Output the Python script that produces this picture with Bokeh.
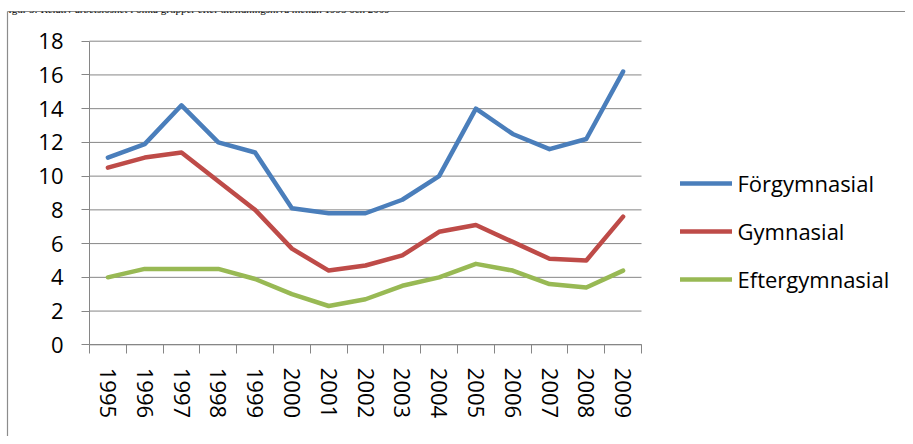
from bokeh.plotting import figure
from bokeh.models import Range1d, FixedTicker, Legend, LegendItem, Label, LinearAxis
from bokeh.embed import file_html
from bokeh.resources import INLINE

# ---- data -------------------------------------------------------------
title_text = "Figur 5: Relativ arbetslöshet i olika grupper efter utbildningsnivå mellan 1995 och 2009"
years = ["1995", "1996", "1997", "1998", "1999", "2000", "2001", "2002",
         "2003", "2004", "2005", "2006", "2007", "2008", "2009"]
forgymnasial = [11.1, 11.9, 14.2, 12.0, 11.4, 8.1, 7.8, 7.8, 8.6, 10.0, 14.0, 12.5, 11.6, 12.2, 16.2]
gymnasial = [10.5, 11.1, 11.4, 9.7, 8.0, 5.7, 4.4, 4.7, 5.3, 6.7, 7.1, 6.1, 5.1, 5.0, 7.6]
eftergymnasial = [4.0, 4.5, 4.5, 4.5, 3.9, 3.0, 2.3, 2.7, 3.5, 4.0, 4.8, 4.4, 3.6, 3.4, 4.4]
series_names = ["Förgymnasial", "Gymnasial", "Eftergymnasial"]
y_ticks = [0, 2, 4, 6, 8, 10, 12, 14, 16, 18]
y_max = 18

# ---- layout / styling ---------------------------------------------------
colors = ["#4A7EBB", "#BE4B48", "#98B954"]
grid_color = "#868686"
border_color = "#8c8c8c"
font = "Open Sans"
fs = "22px"

W, H = 905, 436
frame_left, frame_top = 7, 11   # outer chart box edges
plot_left, plot_right = 89, 641 # pixel positions of the category axis ends
plot_top, plot_bottom = 40.7, 344.3

n = len(years)
x_pos = [i + 0.5 for i in range(n)]          # category centres
boundaries = list(range(n + 1))               # category boundaries (tick marks)

px_x = (plot_right - plot_left) / n
px_y = (plot_bottom - plot_top) / y_max
x_range = Range1d(-(plot_left - frame_left) / px_x, n + (W - plot_right) / px_x)
y_range = Range1d(-(H - plot_bottom) / px_y, y_max + (plot_top - frame_top) / px_y)

p = figure(width=W, height=H, output_backend="svg", toolbar_location=None,
           x_range=x_range, y_range=y_range,
           x_axis_location=None, y_axis_location=None,
           min_border_left=frame_left, min_border_right=0,
           min_border_top=frame_top, min_border_bottom=0)
p.outline_line_color = None
p.background_fill_color = "white"
p.border_fill_color = "white"
p.grid.visible = False

# horizontal gridlines
p.segment(x0=[0] * len(y_ticks), x1=[n] * len(y_ticks), y0=y_ticks, y1=y_ticks,
          line_color=grid_color, line_width=1)

renderers = []
for vals, c in zip([forgymnasial, gymnasial, eftergymnasial], colors):
    r = p.line(x_pos, vals, line_color=c, line_width=4.5, line_cap="round", line_join="round")
    renderers.append(r)

# category axis: labels at centres, tick marks at boundaries
xa = LinearAxis(fixed_location=0, bounds=(0, n))
xa.ticker = FixedTicker(ticks=x_pos, minor_ticks=boundaries)
xa.major_label_overrides = {x: y for x, y in zip(x_pos, years)}
xa.major_label_orientation = "vertical"
xa.major_tick_out = 0
xa.major_tick_in = 0
xa.minor_tick_out = 9
xa.minor_tick_in = 0
xa.minor_tick_line_color = grid_color
xa.axis_line_color = grid_color
xa.major_label_standoff = 14
xa.major_label_text_font = font
xa.major_label_text_font_size = fs
xa.major_label_text_color = "black"
p.add_layout(xa, "below")

ya = LinearAxis(fixed_location=0, bounds=(0, y_max))
ya.ticker = FixedTicker(ticks=y_ticks)
ya.major_tick_out = 8
ya.major_tick_in = 0
ya.minor_tick_line_color = None
ya.major_tick_line_color = grid_color
ya.axis_line_color = grid_color
ya.major_label_standoff = 18
ya.major_label_text_font = font
ya.major_label_text_font_size = fs
ya.major_label_text_color = "black"
p.add_layout(ya, "left")

# outer chart box (left and top edges) drawn as bare axis lines
for loc in ("left", "above"):
    b = LinearAxis(ticker=FixedTicker(ticks=[]), major_tick_out=0, major_tick_in=0,
                   minor_tick_out=0, minor_tick_in=0, major_label_text_font_size="0px",
                   axis_line_color=border_color, axis_line_width=1.2)
    p.add_layout(b, loc)

# document caption above the chart box
cap = Label(x=2, y=8.5, x_units="canvas", y_units="canvas", text=title_text,
            text_font="Liberation Serif", text_font_size="11px",
            text_baseline="alphabetic", text_color="black")
p.add_layout(cap)

legend = Legend(items=[LegendItem(label=nm, renderers=[r]) for nm, r in zip(series_names, renderers)],
                location=(679.5 - frame_left, 142), orientation="vertical",
                glyph_width=52, glyph_height=30, label_height=30, spacing=18,
                label_standoff=6, padding=0, margin=0,
                border_line_alpha=0, background_fill_alpha=0,
                label_text_font=font, label_text_font_size=fs, label_text_color="black")
p.add_layout(legend, "center")

open("out.html", "w").write(file_html(p, INLINE))
